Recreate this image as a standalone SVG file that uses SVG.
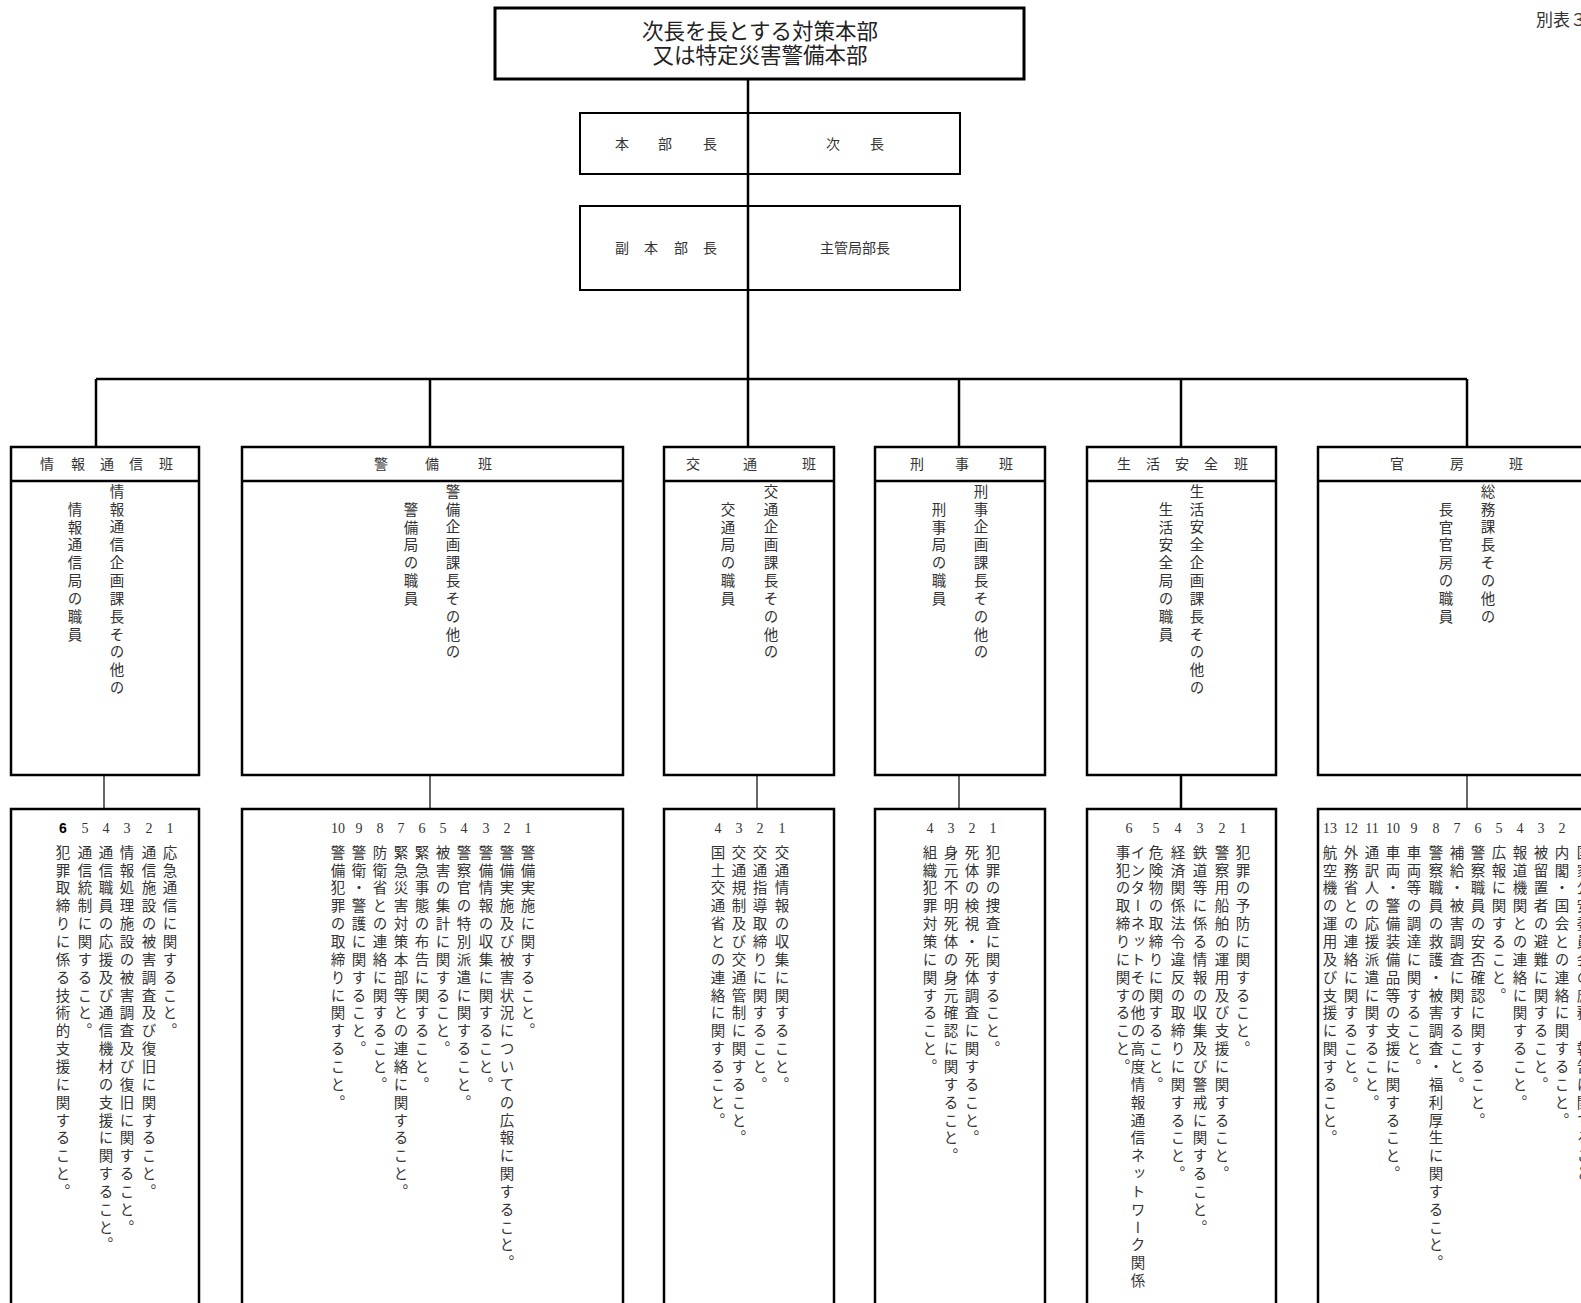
<svg xmlns="http://www.w3.org/2000/svg" width="1581" height="1303" viewBox="0 0 1581 1303">
<style>
.bx{fill:none;stroke:#000;stroke-width:2.5}
.bt{fill:none;stroke:#000;stroke-width:3}
.bs{fill:none;stroke:#000;stroke-width:2}
.ln{stroke:#000;stroke-width:2.5;fill:none}
.lt{stroke:#000;stroke-width:1.2;fill:none}
text{font-family:"Noto Sans CJK JP",sans-serif;fill:#333}
.h{font-size:14px;text-anchor:middle}
.vt{font-size:14.5px;writing-mode:vertical-rl;letter-spacing:3.35px}
.n{font-family:"Liberation Serif","Noto Sans CJK JP",serif;font-size:14px;text-anchor:middle}
.ttl{font-size:21.5px;text-anchor:middle;fill:#222}
</style>
<rect width="1581" height="1303" fill="#fff"/>

<g id="connectors">
<line class="ln" x1="748" y1="79" x2="748" y2="379"/>
<line class="ln" x1="96" y1="379" x2="1467" y2="379"/>
<line class="ln" x1="96" y1="379" x2="96" y2="447"/>
<line class="ln" x1="430" y1="379" x2="430" y2="447"/>
<line class="ln" x1="748" y1="379" x2="748" y2="447"/>
<line class="ln" x1="959" y1="379" x2="959" y2="447"/>
<line class="ln" x1="1181" y1="379" x2="1181" y2="447"/>
<line class="ln" x1="1467" y1="379" x2="1467" y2="447"/>
<line class="lt" x1="104" y1="775" x2="104" y2="809"/>
<line class="lt" x1="430" y1="775" x2="430" y2="809"/>
<line class="lt" x1="757" y1="775" x2="757" y2="809"/>
<line class="lt" x1="959" y1="775" x2="959" y2="809"/>
<line class="ln" x1="1181" y1="775" x2="1181" y2="809"/>
<line class="lt" x1="1467" y1="775" x2="1467" y2="809"/>
</g>

<text x="1536" y="26" style="font-size:17px;fill:#333">別表３</text>

<g id="title">
<rect class="bt" x="495" y="8" width="529" height="71"/>
<text class="ttl" x="760" y="39"><tspan x="760" y="39">次長を長とする対策本部</tspan><tspan x="760" y="63">又は特定災害警備本部</tspan></text>
</g>

<g id="honbucho">
<rect class="bs" x="580" y="113" width="380" height="61"/>
<text class="h" x="622" y="149">本</text><text class="h" x="665" y="149">部</text><text class="h" x="710" y="149">長</text>
<text class="h" x="833" y="149">次</text><text class="h" x="877" y="149">長</text>
</g>

<g id="fukuhonbucho">
<rect class="bs" x="580" y="206" width="380" height="84"/>
<text class="h" x="622" y="253">副</text><text class="h" x="651" y="253">本</text><text class="h" x="681" y="253">部</text><text class="h" x="710" y="253">長</text>
<text class="h" x="855" y="253">主管局部長</text>
</g>

<!-- Column 1 -->
<g id="joho">
<rect class="bx" x="11" y="447" width="188" height="328"/>
<line class="ln" x1="11" y1="481" x2="199" y2="481"/>
<text class="h" x="47" y="469">情</text><text class="h" x="78" y="469">報</text><text class="h" x="107" y="469">通</text><text class="h" x="136" y="469">信</text><text class="h" x="166" y="469">班</text>
<text class="vt" x="117" y="484">情報通信企画課長その他の</text>
<text class="vt" x="75" y="502">情報通信局の職員</text>
</g>
<g id="joho-duties">
<rect class="bx" x="11" y="809" width="188" height="510"/>
<text class="n" x="170" y="833">1</text><text class="n" x="149" y="833">2</text><text class="n" x="127" y="833">3</text><text class="n" x="106" y="833">4</text><text class="n" x="85" y="833">5</text><text class="n" x="63" y="833" style="font-family:'Liberation Sans',sans-serif;font-weight:bold;fill:#000">6</text>
<text class="vt" x="170" y="845">応急通信に関すること。</text>
<text class="vt" x="149" y="845">通信施設の被害調査及び復旧に関すること。</text>
<text class="vt" x="127" y="845">情報処理施設の被害調査及び復旧に関すること。</text>
<text class="vt" x="106" y="845">通信職員の応援及び通信機材の支援に関すること。</text>
<text class="vt" x="85" y="845">通信統制に関すること。</text>
<text class="vt" x="63" y="845">犯罪取締りに係る技術的支援に関すること。</text>
</g>

<!-- Column 2 -->
<g id="keibi">
<rect class="bx" x="242" y="447" width="381" height="328"/>
<line class="ln" x1="242" y1="481" x2="623" y2="481"/>
<text class="h" x="381" y="469">警</text><text class="h" x="432" y="469">備</text><text class="h" x="485" y="469">班</text>
<text class="vt" x="453" y="484">警備企画課長その他の</text>
<text class="vt" x="411" y="502">警備局の職員</text>
</g>
<g id="keibi-duties">
<rect class="bx" x="242" y="809" width="381" height="510"/>
<text class="n" x="528" y="833">1</text><text class="n" x="507" y="833">2</text><text class="n" x="486" y="833">3</text><text class="n" x="464" y="833">4</text><text class="n" x="443" y="833">5</text><text class="n" x="422" y="833">6</text><text class="n" x="401" y="833">7</text><text class="n" x="380" y="833">8</text><text class="n" x="359" y="833">9</text><text class="n" x="338" y="833">10</text>
<text class="vt" x="528" y="845">警備実施に関すること。</text>
<text class="vt" x="507" y="845">警備実施及び被害状況についての広報に関すること。</text>
<text class="vt" x="486" y="845">警備情報の収集に関すること。</text>
<text class="vt" x="464" y="845">警察官の特別派遣に関すること。</text>
<text class="vt" x="443" y="845">被害の集計に関すること。</text>
<text class="vt" x="422" y="845">緊急事態の布告に関すること。</text>
<text class="vt" x="401" y="845">緊急災害対策本部等との連絡に関すること。</text>
<text class="vt" x="380" y="845">防衛省との連絡に関すること。</text>
<text class="vt" x="359" y="845">警衛・警護に関すること。</text>
<text class="vt" x="338" y="845">警備犯罪の取締りに関すること。</text>
</g>

<!-- Column 3 -->
<g id="kotsu">
<rect class="bx" x="664" y="447" width="170" height="328"/>
<line class="ln" x1="664" y1="481" x2="834" y2="481"/>
<text class="h" x="693" y="469">交</text><text class="h" x="750" y="469">通</text><text class="h" x="809" y="469">班</text>
<text class="vt" x="771" y="484">交通企画課長その他の</text>
<text class="vt" x="728" y="502">交通局の職員</text>
</g>
<g id="kotsu-duties">
<rect class="bx" x="664" y="809" width="170" height="510"/>
<text class="n" x="782" y="833">1</text><text class="n" x="760" y="833">2</text><text class="n" x="739" y="833">3</text><text class="n" x="718" y="833">4</text>
<text class="vt" x="782" y="845">交通情報の収集に関すること。</text>
<text class="vt" x="760" y="845">交通指導取締りに関すること。</text>
<text class="vt" x="739" y="845">交通規制及び交通管制に関すること。</text>
<text class="vt" x="718" y="845">国土交通省との連絡に関すること。</text>
</g>

<!-- Column 4 -->
<g id="keiji">
<rect class="bx" x="875" y="447" width="170" height="328"/>
<line class="ln" x1="875" y1="481" x2="1045" y2="481"/>
<text class="h" x="917" y="469">刑</text><text class="h" x="962" y="469">事</text><text class="h" x="1006" y="469">班</text>
<text class="vt" x="981" y="484">刑事企画課長その他の</text>
<text class="vt" x="939" y="502">刑事局の職員</text>
</g>
<g id="keiji-duties">
<rect class="bx" x="875" y="809" width="170" height="510"/>
<text class="n" x="993" y="833">1</text><text class="n" x="972" y="833">2</text><text class="n" x="951" y="833">3</text><text class="n" x="930" y="833">4</text>
<text class="vt" x="993" y="845">犯罪の捜査に関すること。</text>
<text class="vt" x="972" y="845">死体の検視・死体調査に関すること。</text>
<text class="vt" x="951" y="845">身元不明死体の身元確認に関すること。</text>
<text class="vt" x="930" y="845">組織犯罪対策に関すること。</text>
</g>

<!-- Column 5 -->
<g id="seikatsu">
<rect class="bx" x="1087" y="447" width="189" height="328"/>
<line class="ln" x1="1087" y1="481" x2="1276" y2="481"/>
<text class="h" x="1124" y="469">生</text><text class="h" x="1153" y="469">活</text><text class="h" x="1182" y="469">安</text><text class="h" x="1211" y="469">全</text><text class="h" x="1241" y="469">班</text>
<text class="vt" x="1197" y="484">生活安全企画課長その他の</text>
<text class="vt" x="1166" y="502">生活安全局の職員</text>
</g>
<g id="seikatsu-duties">
<rect class="bx" x="1087" y="809" width="189" height="510"/>
<text class="n" x="1243" y="833">1</text><text class="n" x="1222" y="833">2</text><text class="n" x="1200" y="833">3</text><text class="n" x="1178" y="833">4</text><text class="n" x="1156" y="833">5</text><text class="n" x="1129" y="833">6</text>
<text class="vt" x="1243" y="845">犯罪の予防に関すること。</text>
<text class="vt" x="1222" y="845">警察用船舶の運用及び支援に関すること。</text>
<text class="vt" x="1200" y="845">鉄道等に係る情報の収集及び警戒に関すること。</text>
<text class="vt" x="1178" y="845">経済関係法令違反の取締りに関すること。</text>
<text class="vt" x="1156" y="845">危険物の取締りに関すること。</text>
<text class="vt" x="1138" y="845">インターネットその他の高度情報通信ネットワーク関係</text>
<text class="vt" x="1123" y="845">事犯の取締りに関すること。</text>
</g>

<!-- Column 6 -->
<g id="kanbo">
<rect class="bx" x="1318" y="447" width="300" height="328"/>
<line class="ln" x1="1318" y1="481" x2="1618" y2="481"/>
<text class="h" x="1397" y="469">官</text><text class="h" x="1457" y="469">房</text><text class="h" x="1516" y="469">班</text>
<text class="vt" x="1488" y="484">総務課長その他の</text>
<text class="vt" x="1446" y="502">長官官房の職員</text>
</g>
<g id="kanbo-duties">
<rect class="bx" x="1318" y="809" width="300" height="510"/>
<text class="n" x="1562" y="833">2</text><text class="n" x="1541" y="833">3</text><text class="n" x="1520" y="833">4</text><text class="n" x="1499" y="833">5</text><text class="n" x="1478" y="833">6</text><text class="n" x="1457" y="833">7</text><text class="n" x="1436" y="833">8</text><text class="n" x="1414" y="833">9</text><text class="n" x="1393" y="833">10</text><text class="n" x="1372" y="833">11</text><text class="n" x="1351" y="833">12</text><text class="n" x="1330" y="833">13</text>
<text class="vt" x="1584" y="845">国家公安委員会の庶務、報告に関すること。</text>
<text class="vt" x="1562" y="845">内閣・国会との連絡に関すること。</text>
<text class="vt" x="1541" y="845">被留置者の避難に関すること。</text>
<text class="vt" x="1520" y="845">報道機関との連絡に関すること。</text>
<text class="vt" x="1499" y="845">広報に関すること。</text>
<text class="vt" x="1478" y="845">警察職員の安否確認に関すること。</text>
<text class="vt" x="1457" y="845">補給・被害調査に関すること。</text>
<text class="vt" x="1436" y="845">警察職員の救護・被害調査・福利厚生に関すること。</text>
<text class="vt" x="1414" y="845">車両等の調達に関すること。</text>
<text class="vt" x="1393" y="845">車両・警備装備品等の支援に関すること。</text>
<text class="vt" x="1372" y="845">通訳人の応援派遣に関すること。</text>
<text class="vt" x="1351" y="845">外務省との連絡に関すること。</text>
<text class="vt" x="1330" y="845">航空機の運用及び支援に関すること。</text>
</g>
</svg>
